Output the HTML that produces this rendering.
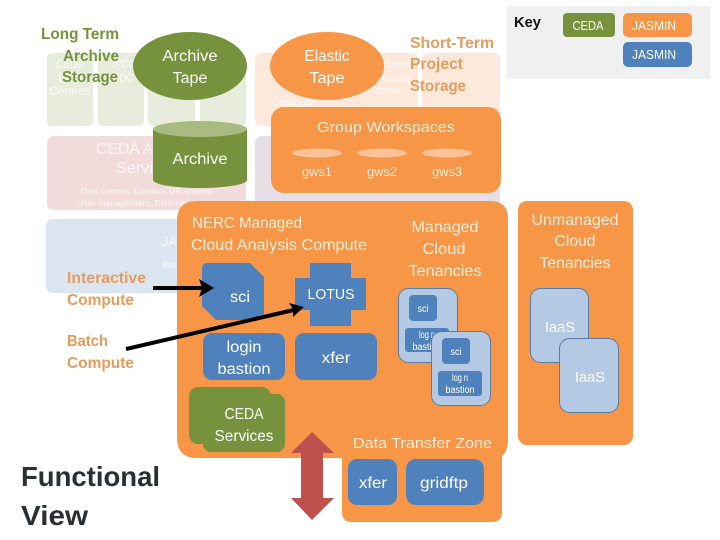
<!DOCTYPE html>
<html><head><meta charset="utf-8"><style>
html,body{margin:0;padding:0;background:#fff;width:720px;height:540px;overflow:hidden}
svg{display:block;font-family:"Liberation Sans",sans-serif}
.w{fill:#fff}
.c{text-anchor:middle}
.g{fill:#76923c;font-weight:bold;font-size:15.5px}
.o{fill:#e59c5c;font-weight:bold;font-size:15.5px}
</style></head><body>
<svg width="720" height="540" viewBox="0 0 720 540">
<!-- faded background -->
<g fill="#e7ecdd">
<rect x="47" y="53" width="46" height="73" rx="5"/><rect x="98" y="53" width="46" height="73" rx="5"/>
<rect x="148" y="53" width="47" height="73" rx="5"/><rect x="200" y="53" width="46" height="73" rx="5"/></g>
<g fill="#fce9dc"><rect x="255" y="53" width="163" height="73" rx="6"/><rect x="422" y="53" width="78" height="73" rx="6"/></g>
<rect x="47" y="136" width="199" height="74" rx="7" fill="#f2dcdb"/>
<rect x="255" y="136" width="245" height="74" rx="7" fill="#e8dfe6"/>
<rect x="46" y="219" width="200" height="74" rx="7" fill="#dce6f1"/>
<g fill="#fff" opacity=".75" font-size="12">
<text x="56" y="68" textLength="28" lengthAdjust="spacingAndGlyphs">CEDA</text><text x="58" y="82" textLength="24" lengthAdjust="spacingAndGlyphs">Data</text><text x="49" y="95" textLength="42" lengthAdjust="spacingAndGlyphs">Centres</text>
<text x="112" y="68" textLength="24" lengthAdjust="spacingAndGlyphs">IPCC</text><text x="112" y="82" textLength="22" lengthAdjust="spacingAndGlyphs">DDC</text>
<text x="385" y="68" font-size="11" textLength="25" lengthAdjust="spacingAndGlyphs">Cloud</text><text x="380" y="82" font-size="11" textLength="30" lengthAdjust="spacingAndGlyphs">Analysis</text><text x="372" y="94" font-size="11" textLength="28" lengthAdjust="spacingAndGlyphs">Compute</text>
<text x="272" y="106" textLength="42" font-size="11" lengthAdjust="spacingAndGlyphs">Compute</text>
<text x="96" y="154" font-size="16" textLength="57" lengthAdjust="spacingAndGlyphs">CEDA A</text><text x="116" y="173" font-size="16" textLength="37" lengthAdjust="spacingAndGlyphs">Servi</text>
<text x="81" y="194" font-size="8" textLength="132" lengthAdjust="spacingAndGlyphs">Data Centres, Curation, DB systems</text>
<text x="77" y="206" font-size="8" textLength="110" lengthAdjust="spacingAndGlyphs">User management, External</text>
<text x="162" y="246" font-size="14" textLength="15" lengthAdjust="spacingAndGlyphs">JA</text>
<text x="162" y="268" font-size="9" textLength="14" lengthAdjust="spacingAndGlyphs">Bat</text>
</g>

<!-- left titles -->
<g class="g"><text x="41" y="39" textLength="78" lengthAdjust="spacingAndGlyphs">Long Term</text><text x="63" y="61" textLength="56" lengthAdjust="spacingAndGlyphs">Archive</text><text x="62" y="82" textLength="56" lengthAdjust="spacingAndGlyphs">Storage</text></g>
<ellipse cx="190" cy="66" rx="57" ry="34" fill="#76923c"/>
<text class="w c" x="190" y="61" font-size="15.500" textLength="55" lengthAdjust="spacingAndGlyphs">Archive</text>
<text class="w c" x="190" y="83" font-size="15.500" textLength="35" lengthAdjust="spacingAndGlyphs">Tape</text>
<ellipse cx="327" cy="66" rx="57" ry="34" fill="#f79646"/>
<text class="w c" x="327" y="61" font-size="15.500" textLength="45" lengthAdjust="spacingAndGlyphs">Elastic</text>
<text class="w c" x="327" y="83" font-size="15.500" textLength="35" lengthAdjust="spacingAndGlyphs">Tape</text>
<g class="o"><text x="410" y="48" textLength="84" lengthAdjust="spacingAndGlyphs">Short-Term</text><text x="410" y="69" textLength="53" lengthAdjust="spacingAndGlyphs">Project</text><text x="410" y="91" textLength="56" lengthAdjust="spacingAndGlyphs">Storage</text></g>

<!-- cylinder -->
<path d="M153 129V180A47 8 0 0 0 247 180V129Z" fill="#76923c"/>
<ellipse cx="200" cy="129" rx="47" ry="8" fill="#a9bb82"/>
<text class="w c" x="200" y="164" font-size="15.500" textLength="55" lengthAdjust="spacingAndGlyphs">Archive</text>

<!-- group workspaces -->
<rect x="271" y="107" width="230" height="86" rx="13" fill="#f79646"/>
<text class="c" fill="#fdeede" x="386" y="132" font-size="15" textLength="138" lengthAdjust="spacingAndGlyphs">Group Workspaces</text>
<g fill="#fbc298"><ellipse cx="317" cy="153" rx="25" ry="4.500"/><ellipse cx="382" cy="153" rx="25" ry="4.500"/><ellipse cx="447" cy="153" rx="25" ry="4.500"/></g>
<g class="c" fill="#fdeede" font-size="13"><text x="317" y="176" textLength="30" lengthAdjust="spacingAndGlyphs">gws1</text><text x="382" y="176" textLength="30" lengthAdjust="spacingAndGlyphs">gws2</text><text x="447" y="176" textLength="30" lengthAdjust="spacingAndGlyphs">gws3</text></g>

<!-- main orange -->
<path d="M197 201H490Q508 201 508 219V440Q508 451 502 456V512Q502 522 492 522H352Q342 522 342 512V458H197Q177 458 177 438V221Q177 201 197 201Z" fill="#f79646"/>
<g fill="#fdeede" font-size="15.500"><text x="192" y="228" textLength="110" lengthAdjust="spacingAndGlyphs">NERC Managed</text><text x="191" y="250" textLength="176" lengthAdjust="spacingAndGlyphs">Cloud Analysis Compute</text></g>
<g class="c" fill="#fdeede" font-size="15.500"><text x="445" y="232" textLength="67" lengthAdjust="spacingAndGlyphs">Managed</text><text x="444" y="254" textLength="43" lengthAdjust="spacingAndGlyphs">Cloud</text><text x="445" y="276" textLength="73" lengthAdjust="spacingAndGlyphs">Tenancies</text></g>

<!-- sci -->
<path d="M208 263H250L264 277V313Q264 320 257 320H216L202 306V269Q202 263 208 263Z" fill="#4f81bd"/>
<text class="w c" x="240" y="302" font-size="15.500" textLength="20" lengthAdjust="spacingAndGlyphs">sci</text>
<!-- lotus -->
<path d="M310 263H351V278H366V310H351V326H310V310H295V278H310Z" fill="#4f81bd"/>
<text class="w c" x="331" y="299" font-size="15" textLength="47" lengthAdjust="spacingAndGlyphs">LOTUS</text>
<rect x="203" y="333" width="82" height="47" rx="9" fill="#4f81bd"/>
<text class="w c" x="244" y="352" font-size="15.500" textLength="35" lengthAdjust="spacingAndGlyphs">login</text>
<text class="w c" x="244" y="374" font-size="15.500" textLength="53" lengthAdjust="spacingAndGlyphs">bastion</text>
<rect x="295" y="333" width="82" height="47" rx="9" fill="#4f81bd"/>
<text class="w c" x="336" y="363" font-size="15.500" textLength="29" lengthAdjust="spacingAndGlyphs">xfer</text>

<!-- tenancy cards -->
<rect x="398.500" y="288.500" width="59" height="74" rx="10" fill="#b3c9e4" stroke="#5a7ba6"/>
<rect x="409" y="295" width="28" height="26" rx="4" fill="#4f81bd"/>
<text class="w c" x="423" y="312" font-size="10" textLength="11" lengthAdjust="spacingAndGlyphs">sci</text>
<rect x="405" y="328" width="44" height="24" rx="3" fill="#4f81bd"/>
<text class="w c" x="427" y="338" font-size="10" textLength="16" lengthAdjust="spacingAndGlyphs">log n</text>
<text class="w c" x="427" y="350" font-size="10" textLength="29" lengthAdjust="spacingAndGlyphs">bastion</text>
<rect x="431.500" y="331.500" width="59" height="74" rx="10" fill="#b3c9e4" stroke="#5a7ba6"/>
<rect x="442" y="338" width="28" height="26" rx="4" fill="#4f81bd"/>
<text class="w c" x="456" y="355" font-size="10" textLength="11" lengthAdjust="spacingAndGlyphs">sci</text>
<rect x="438" y="371" width="44" height="25" rx="3" fill="#4f81bd"/>
<text class="w c" x="460" y="381" font-size="10" textLength="16" lengthAdjust="spacingAndGlyphs">log n</text>
<text class="w c" x="460" y="393" font-size="10" textLength="29" lengthAdjust="spacingAndGlyphs">bastion</text>

<!-- ceda services -->
<rect x="189" y="387" width="82" height="57" rx="9" fill="#76923c"/>
<rect x="203" y="394" width="82" height="58" rx="8" fill="#76923c"/>
<text class="w c" x="244" y="419" font-size="15.500" textLength="39" lengthAdjust="spacingAndGlyphs">CEDA</text>
<text class="w c" x="244" y="441" font-size="15.500" textLength="59" lengthAdjust="spacingAndGlyphs">Services</text>

<!-- data transfer -->
<text fill="#fdeede" x="353" y="448" font-size="15" textLength="139" lengthAdjust="spacingAndGlyphs">Data Transfer Zone</text>
<rect x="348" y="459" width="49" height="46" rx="9" fill="#4f81bd"/>
<text class="w c" x="373" y="488" font-size="15.500" textLength="28" lengthAdjust="spacingAndGlyphs">xfer</text>
<rect x="406" y="459" width="78" height="46" rx="10" fill="#4f81bd"/>
<text class="w c" x="444" y="488" font-size="15.500" textLength="48" lengthAdjust="spacingAndGlyphs">gridftp</text>

<!-- red arrow -->
<path d="M312 432L334 453H323V498H334L312 520L291 498H301V453H291Z" fill="#c0504d"/>

<!-- left labels -->
<g class="o"><text x="67" y="283" textLength="79" lengthAdjust="spacingAndGlyphs">Interactive</text><text x="67" y="305" textLength="67" lengthAdjust="spacingAndGlyphs">Compute</text>
<text x="67" y="346" textLength="41" lengthAdjust="spacingAndGlyphs">Batch</text><text x="67" y="368" textLength="67" lengthAdjust="spacingAndGlyphs">Compute</text></g>
<text x="21" y="486" font-size="28" font-weight="bold" fill="#2a2f36" textLength="139" lengthAdjust="spacingAndGlyphs">Functional</text>
<text x="21" y="525" font-size="28" font-weight="bold" fill="#2a2f36" textLength="67" lengthAdjust="spacingAndGlyphs">View</text>

<!-- arrows -->
<g stroke="#000" stroke-width="4" fill="none">
<path d="M153 288H208"/><path d="M126 349L298 309"/></g>
<path d="M214 288L199 279L202 288L199 297Z" fill="#000"/>
<path d="M304 307L289 303L293 309L293 317Z" fill="#000"/>

<!-- unmanaged -->
<rect x="518" y="201" width="115" height="244" rx="9" fill="#f79646"/>
<g class="c" fill="#fdeede" font-size="15.500"><text x="575" y="225" textLength="87" lengthAdjust="spacingAndGlyphs">Unmanaged</text><text x="575" y="246" textLength="41" lengthAdjust="spacingAndGlyphs">Cloud</text><text x="575" y="268" textLength="71" lengthAdjust="spacingAndGlyphs">Tenancies</text></g>
<rect x="530.500" y="288.500" width="58" height="74" rx="10" fill="#b3c9e4" stroke="#5a7ba6"/>
<text class="w c" x="560" y="332" font-size="15" textLength="30" lengthAdjust="spacingAndGlyphs">IaaS</text>
<rect x="559.500" y="338.500" width="59" height="74" rx="10" fill="#b3c9e4" stroke="#5a7ba6"/>
<text class="w c" x="590" y="382" font-size="15" textLength="30" lengthAdjust="spacingAndGlyphs">IaaS</text>

<!-- key -->
<rect x="507" y="6" width="203" height="73" fill="#f0f0f0"/>
<text x="514" y="27" font-size="15" font-weight="bold" fill="#111" textLength="27" lengthAdjust="spacingAndGlyphs">Key</text>
<rect x="563" y="13" width="52" height="24" rx="4" fill="#76923c"/>
<text class="w c" x="588" y="30" font-size="12.500" textLength="31" lengthAdjust="spacingAndGlyphs">CEDA</text>
<rect x="623" y="13" width="69" height="24" rx="5" fill="#f79646"/>
<text class="w c" x="654" y="30" font-size="12.500" textLength="44" lengthAdjust="spacingAndGlyphs">JASMIN</text>
<rect x="623" y="42" width="69" height="25" rx="5" fill="#4f81bd"/>
<text class="w c" x="654" y="59" font-size="12.500" textLength="44" lengthAdjust="spacingAndGlyphs">JASMIN</text>
</svg>
</body></html>
